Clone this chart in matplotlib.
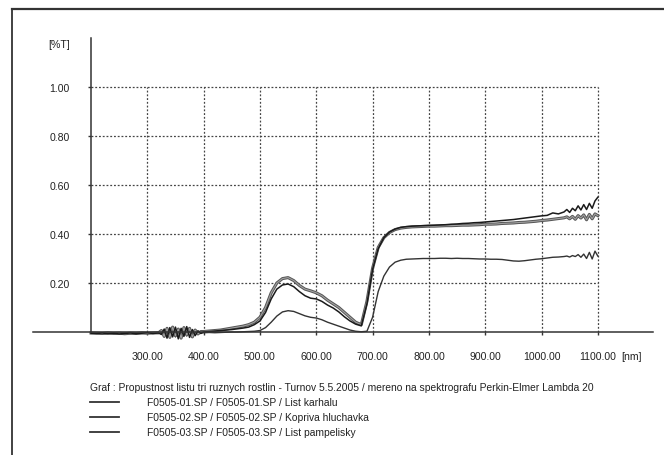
import numpy as np
import matplotlib.pyplot as plt
import matplotlib.patheffects as pe
from matplotlib.lines import Line2D

plt.rcParams['font.family'] = ['Liberation Sans', 'DejaVu Sans']

# vlnova delka [nm] - jemnejsi krok v zasumenych oblastech
wl = np.concatenate([np.arange(200, 320, 10), np.arange(320, 400, 5),
                     np.arange(400, 1040, 10), np.arange(1040, 1105, 5)])

# F0505-01 (cerna)
t1 = [-0.005, -0.006, -0.004, -0.007, -0.005, -0.008, -0.006, -0.004, -0.007, -0.005, -0.003, -0.006,
      -0.004, -0.010, 0.012, -0.025, 0.018, -0.020, 0.020, -0.028, 0.015, -0.018, 0.022, -0.022, 0.010, -0.015, 0.005, -0.006,
      0.000, 0.002, 0.004, 0.006, 0.008, 0.010, 0.013, 0.016, 0.020, 0.030,
      0.045, 0.080, 0.135, 0.175, 0.192, 0.196, 0.185, 0.165, 0.148, 0.138,
      0.135, 0.125, 0.110, 0.098, 0.082, 0.062, 0.045, 0.032, 0.025, 0.115,
      0.255, 0.340, 0.385, 0.408, 0.420, 0.427, 0.430, 0.432, 0.433, 0.434,
      0.435, 0.436, 0.437, 0.438, 0.440, 0.441, 0.443, 0.444, 0.446, 0.447,
      0.449, 0.451, 0.453, 0.455, 0.457, 0.459, 0.462, 0.465, 0.468, 0.471,
      0.474, 0.476, 0.486, 0.482,
      0.490, 0.500, 0.488, 0.505, 0.495, 0.515, 0.498, 0.520, 0.500, 0.525, 0.505, 0.535, 0.550]

# F0505-02 (seda)
t2 = [-0.004, -0.005, -0.006, -0.004, -0.006, -0.005, -0.007, -0.005, -0.006, -0.004, -0.005, -0.004,
      -0.003, 0.006, -0.018, 0.015, -0.022, 0.020, -0.015, 0.012, -0.025, 0.018, -0.012, 0.015, -0.020, 0.008, -0.008, 0.002,
      0.002, 0.004, 0.006, 0.008, 0.012, 0.016, 0.020, 0.024, 0.030, 0.040,
      0.060, 0.100, 0.160, 0.200, 0.218, 0.222, 0.210, 0.190, 0.175, 0.168,
      0.160, 0.148, 0.130, 0.115, 0.100, 0.080, 0.060, 0.040, 0.030, 0.125,
      0.260, 0.345, 0.385, 0.406, 0.418, 0.424, 0.427, 0.429, 0.430, 0.431,
      0.432, 0.432, 0.433, 0.434, 0.434, 0.435, 0.436, 0.436, 0.437, 0.438,
      0.440, 0.440, 0.441, 0.443, 0.444, 0.445, 0.447, 0.448, 0.450, 0.452,
      0.455, 0.457, 0.460, 0.463,
      0.466, 0.470, 0.462, 0.472, 0.460, 0.475, 0.465, 0.478, 0.458, 0.480, 0.462, 0.482, 0.475]

# F0505-03
t3 = [-0.006, -0.005, -0.007, -0.006, -0.004, -0.006, -0.005, -0.007, -0.005, -0.006, -0.004, -0.005,
      -0.006, -0.002, -0.012, 0.008, -0.015, 0.010, -0.020, 0.006, -0.010, 0.012, -0.016, 0.004, -0.012, 0.003, -0.004, -0.003,
      -0.003, -0.002, -0.003, -0.002, -0.001, 0.000, 0.000, 0.001, 0.002, 0.003,
      0.006, 0.018, 0.040, 0.065, 0.082, 0.087, 0.084, 0.075, 0.066, 0.060,
      0.057, 0.050, 0.040, 0.032, 0.024, 0.016, 0.008, 0.003, 0.001, 0.003,
      0.060, 0.165, 0.228, 0.265, 0.285, 0.293, 0.297, 0.298, 0.299, 0.300,
      0.300, 0.300, 0.301, 0.301, 0.300, 0.301, 0.300, 0.300, 0.299, 0.298,
      0.298, 0.297, 0.297, 0.296, 0.293, 0.290, 0.289, 0.291, 0.294, 0.297,
      0.299, 0.302, 0.305, 0.306,
      0.308, 0.310, 0.306, 0.312, 0.308, 0.316, 0.305, 0.318, 0.300, 0.325, 0.298, 0.330, 0.310]

x_ticks = [300, 400, 500, 600, 700, 800, 900, 1000, 1100]
x_labels = ["300.00", "400.00", "500.00", "600.00", "700.00", "800.00", "900.00", "1000.00", "1100.00"]
y_ticks = [0.2, 0.4, 0.6, 0.8, 1.0]
y_labels = ["0.20", "0.40", "0.60", "0.80", "1.00"]

title = "Graf : Propustnost listu tri ruznych rostlin - Turnov 5.5.2005 / mereno na spektrografu Perkin-Elmer Lambda 20"
entries = ["F0505-01.SP / F0505-01.SP / List karhalu",
           "F0505-02.SP / F0505-02.SP / Kopriva hluchavka",
           "F0505-03.SP / F0505-03.SP / List pampelisky"]

W, H = 664, 456
fig = plt.figure(figsize=(W / 100, H / 100), dpi=100)
ax = fig.add_axes([33 / W, 1 - 347.7 / H, 620 / W, (347.7 - 39) / H])
ax.set_xlim(97, 1198)
ax.set_ylim(-0.06, 1.2)

for s in ['top', 'right']:
    ax.spines[s].set_visible(False)
ax.spines['left'].set_position(('data', 200))
ax.spines['left'].set_bounds(0, 1.2)
ax.spines['bottom'].set_position(('data', 0))
for s in ['left', 'bottom']:
    ax.spines[s].set_color('#333333')
    ax.spines[s].set_linewidth(1.1)

ax.set_xticks(x_ticks, x_labels)
ax.set_yticks(y_ticks, y_labels)
ax.tick_params(axis='x', length=2.5, width=1, color='#333333', pad=11, labelsize=7.6, labelcolor='#222222')
ax.tick_params(axis='y', length=2.5, width=1, color='#333333', pad=13, labelsize=7.6, labelcolor='#222222')

# teckovana mrizka
ax.hlines(y_ticks, 200, 1100, colors='#444444', linestyles=(0, (1.5, 1.5)), lw=0.9)
ax.vlines(x_ticks, 0, 1.0, colors='#444444', linestyles=(0, (1.5, 1.5)), lw=0.9)

ax.plot(wl, t3, color='#333333', lw=1.0)
ax.plot(wl, t2, color='#a0a0a0', lw=0.8,
        path_effects=[pe.Stroke(linewidth=2.2, foreground='#555555'), pe.Normal()])
ax.plot(wl, t1, color='#1a1a1a', lw=1.1)

ax.text(162.7, 1.176, "[%T]", ha='right', va='center', fontsize=7.6, color='#222222')
ax.text(1141, -0.098, "[nm]", ha='left', va='center', fontsize=7.6, color='#222222')

# ramecek
fig.add_artist(Line2D([12 / W, 1], [1 - 10 / H, 1 - 10 / H], transform=fig.transFigure, color='#333333', lw=1.6))
fig.add_artist(Line2D([12 / W, 12 / W], [0, 1 - 10 / H], transform=fig.transFigure, color='#333333', lw=1.3))

# popis grafu
fig.text(90 / W, 1 - 388 / H, title, ha='left', va='center', fontsize=7.4, color='#222222')
for i, e in enumerate(entries):
    yy = 1 - (403 + 15 * i) / H
    fig.add_artist(Line2D([90 / W, 119 / W], [yy, yy], transform=fig.transFigure, color='#333333', lw=1.3))
    fig.text(147 / W, yy, e, ha='left', va='center', fontsize=7.4, color='#222222')

fig.savefig('out.png', dpi=100, facecolor='white')
